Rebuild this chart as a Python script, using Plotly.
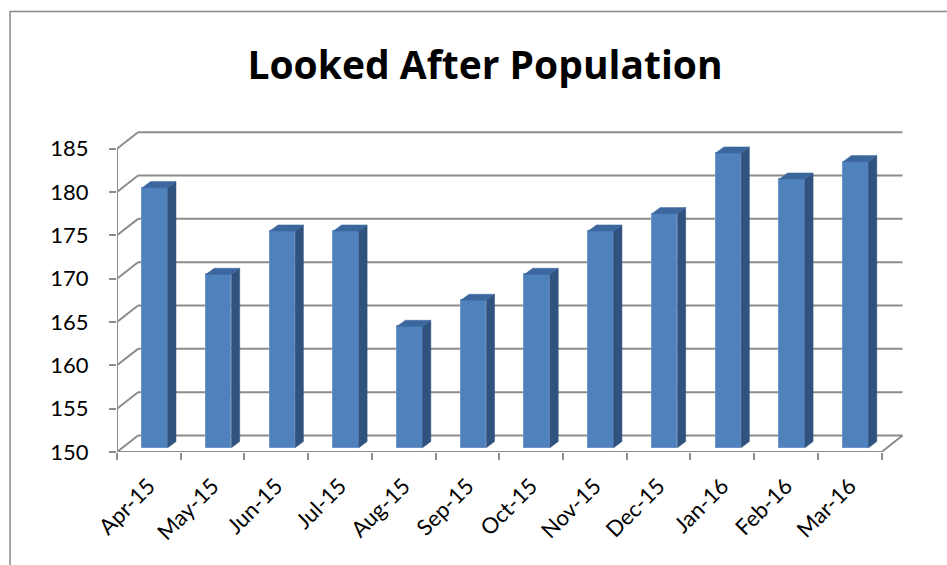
import plotly.graph_objects as go

# ---- data ----
months = ["Apr-15", "May-15", "Jun-15", "Jul-15", "Aug-15", "Sep-15",
          "Oct-15", "Nov-15", "Dec-15", "Jan-16", "Feb-16", "Mar-16"]
population = [180, 170, 175, 175, 164, 167, 170, 175, 177, 184, 181, 183]
y_ticks = [150, 155, 160, 165, 170, 175, 180, 185]

# ---- pseudo-3D styling constants (axis units) ----
W_PX, H_PX = 947, 565
X_MAX, Y_MIN, Y_MAX = 12.4, 150, 187.5
M_L, M_R, M_T, M_B = 117, 39.5, 127.4, 113
DX, DY = 0.33, 1.9          # wall depth
BX, BY = 0.086, 0.5         # bar plane offset
BDX, BDY = 0.13, 0.7        # bar depth
BAR_W = 0.4
GRID = "#8c8c8c"

n = len(months)
fig = go.Figure()

# front faces
centers = [i + 0.5 + BX + 0.01 for i in range(n)]
fig.add_trace(go.Bar(
    x=centers, y=[v - Y_MIN for v in population], base=Y_MIN + BY,
    width=BAR_W, marker=dict(color="#4f81bd", line=dict(color="#6f95c8", width=1)),
    hoverinfo="skip", showlegend=False))

# side & top faces
sx, sy, tx, ty = [], [], [], []
for c, v in zip(centers, population):
    xl, xr = c - BAR_W / 2, c + BAR_W / 2
    yb, yt = Y_MIN + BY, v + BY
    sx += [xr, xr + BDX, xr + BDX, xr, xr, None]
    sy += [yb, yb + BDY, yt + BDY, yt, yb, None]
    tx += [xl, xl + BDX, xr + BDX, xr, xl, None]
    ty += [yt, yt + BDY, yt + BDY, yt, yt, None]
fig.add_trace(go.Scatter(x=sx, y=sy, fill="toself", fillcolor="#30527e",
                         mode="lines", line=dict(width=0.5, color="#30527e"),
                         hoverinfo="skip", showlegend=False))
fig.add_trace(go.Scatter(x=tx, y=ty, fill="toself", fillcolor="#3b679e",
                         mode="lines", line=dict(width=0.5, color="#3b679e"),
                         hoverinfo="skip", showlegend=False))

# walls / gridlines
shapes = []
for v in y_ticks:
    shapes.append(dict(type="line", xref="x", yref="y", x0=DX, x1=n + DX,
                       y0=v + DY, y1=v + DY, line=dict(color=GRID, width=2), layer="below"))
    shapes.append(dict(type="line", xref="x", yref="y", x0=0, x1=DX,
                       y0=v, y1=v + DY, line=dict(color=GRID, width=2), layer="below"))
shapes.append(dict(type="line", xref="x", yref="y", x0=0, x1=n, y0=Y_MIN, y1=Y_MIN,
                   line=dict(color=GRID, width=2), layer="below"))
shapes.append(dict(type="line", xref="x", yref="y", x0=n, x1=n + DX, y0=Y_MIN, y1=Y_MIN + DY,
                   line=dict(color=GRID, width=2), layer="below"))
shapes.append(dict(type="line", xref="x", yref="y", x0=0, x1=0, y0=Y_MIN, y1=y_ticks[-1],
                   line=dict(color=GRID, width=2), layer="below"))

# chart border (outer frame)
pw = W_PX - M_L - M_R
ph = H_PX - M_T - M_B
def px2paper_x(p):
    return (p - M_L) / pw
def px2paper_y(p):
    return (H_PX - M_B - p) / ph
shapes.append(dict(type="rect", xref="paper", yref="paper",
                   x0=px2paper_x(10), x1=px2paper_x(990),
                   y0=px2paper_y(600), y1=px2paper_y(12),
                   line=dict(color="#8a8a8a", width=1.5), layer="below"))

fig.update_layout(
    width=W_PX, height=H_PX,
    margin=dict(l=M_L, r=M_R, t=M_T, b=M_B, pad=0),
    paper_bgcolor="white", plot_bgcolor="white",
    title=dict(text="<b>Looked After Population</b>", x=485 / W_PX, xanchor="center",
               y=1 - 65 / H_PX, yanchor="middle",
               font=dict(family="Open Sans", size=39, color="black")),
    font=dict(family="Lato", size=22, color="black"),
    shapes=shapes,
    bargap=0,
    xaxis=dict(range=[0, X_MAX], tickmode="array", tickvals=[i + 0.5 for i in range(n)],
               ticktext=months, tickangle=-45, ticks="", showgrid=False, zeroline=False,
               showline=False, ticklabelstandoff=16,
               minor=dict(tickmode="array", tickvals=list(range(n + 1)), ticks="outside",
                          ticklen=7, tickwidth=2, tickcolor=GRID, showgrid=False),
               tickfont=dict(family="Lato", size=22)),
    yaxis=dict(range=[Y_MIN, Y_MAX], tickmode="array", tickvals=y_ticks,
               ticks="outside", ticklen=7, tickwidth=2, tickcolor=GRID,
               showgrid=False, zeroline=False, showline=False, ticklabelstandoff=16,
               tickfont=dict(family="Lato", size=22)),
)

fig.write_html("out.html")
